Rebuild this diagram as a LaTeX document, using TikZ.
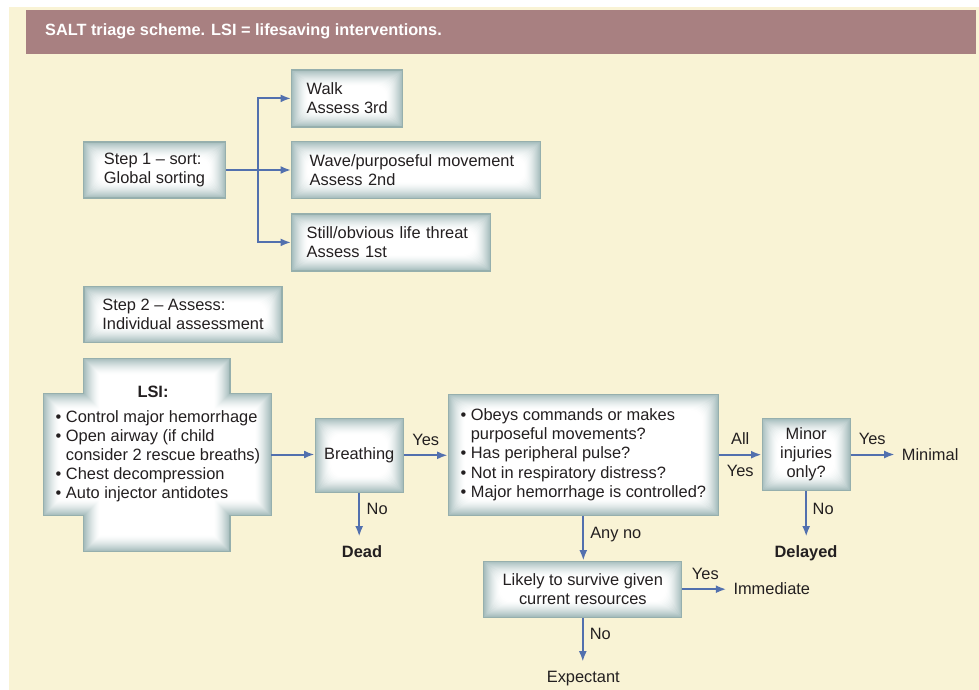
\documentclass[tikz,border=0pt]{standalone}
\usepackage{fontspec}
\setmainfont{Liberation Sans}
\usetikzlibrary{arrows.meta}
\definecolor{cream}{RGB}{249,243,213}
\definecolor{hdrcol}{RGB}{168,128,129}
\definecolor{boxedge}{RGB}{166,189,189}
\definecolor{boxline}{RGB}{150,175,173}
\definecolor{arrowblue}{RGB}{82,112,174}
\definecolor{ink}{RGB}{35,31,32}
\newcommand\diafont{\fontsize{16.4}{19.2}\selectfont}
\begin{document}
\begin{tikzpicture}[x=1pt,y=-1pt,
  pillow/.style={path picture={
    \foreach \i in {0,1,...,16}{
      \pgfmathsetmacro\pc{100*(1-\i/16)^1.5}
      \pgfmathsetmacro\rc{0.7*\i}
      \fill[boxedge!\pc!white, rounded corners=\rc pt]
        ([shift={(\i,\i)}]path picture bounding box.north west) rectangle
        ([shift={(-\i,-\i)}]path picture bounding box.south east);
    }}},
  box/.style={pillow, draw=boxline, line width=1.3pt, inner sep=0pt, font=\diafont, text=ink},
  lbl/.style={inner sep=0pt, font=\diafont, text=ink, text height=12pt, text depth=3.5pt},
  term/.style={lbl},
  arr/.style={draw=arrowblue, line width=2pt, -{Latex[length=10.5pt,width=8pt]}},
  toterm/.style={arr, shorten >=7pt},
  totermv/.style={arr, shorten >=9pt},
]
\useasboundingbox (0,0) rectangle (979,690);
\fill[white] (0,0) rectangle (979,690);
\fill[cream] (9,7) rectangle (979,690);

% header
\node[fill=hdrcol, minimum width=950pt, minimum height=44pt, inner sep=0pt] (hdr) at (501,32) {};
\node[anchor=base west, inner sep=0pt, text=white, font=\bfseries\fontsize{16.3}{19}\selectfont] (title) at (45,36) {SALT triage scheme. LSI = lifesaving interventions.};

% step 1
\node[box, minimum width=142pt, minimum height=56pt, align=left] (s1) at (154.5,170) {Step 1 – sort:\\Global sorting};
\node[box, minimum width=111pt, minimum height=57pt, align=left] (walk) at (347.2,98.4) {Walk\\Assess 3rd};
\node[box, minimum width=249pt, minimum height=57pt, align=left, text width=213pt] (wave) at (416.2,170) {Wave/purposeful movement\\Assess 2nd};
\node[box, minimum width=199pt, minimum height=57pt, align=left, text width=169pt] (still) at (391.2,242.4) {Still/obvious life threat\\Assess 1st};
\coordinate (trunk) at (258.3,170);
\draw[arr] (s1.east) -- (wave.west);
\draw[arr] (trunk) |- (walk.west);
\draw[arr] (trunk) |- (still.west);

% step 2
\node[box, minimum width=198pt, minimum height=56pt, align=left] (s2) at (183,314.5) {Step 2 – Assess:\\Individual assessment};

% LSI cross
\foreach \i in {0,1,...,16}{
  \pgfmathsetmacro\pc{100*(1-\i/16)^1.5}
  \fill[boxedge!\pc!white]
    ({83.8+\i},{358.3+\i}) -- ({230-\i},{358.3+\i}) -- ({230-\i},{393.3+\i}) --
    ({271.2-\i},{393.3+\i}) -- ({271.2-\i},{515.7-\i}) -- ({230-\i},{515.7-\i}) --
    ({230-\i},{551.5-\i}) -- ({83.8+\i},{551.5-\i}) -- ({83.8+\i},{515.7-\i}) --
    ({43.3+\i},{515.7-\i}) -- ({43.3+\i},{393.3+\i}) -- ({83.8+\i},{393.3+\i}) -- cycle;
}
\draw[boxline, line width=1.3pt]
  (83.8,358.3) -- (230,358.3) -- (230,393.3) -- (271.2,393.3) -- (271.2,515.7) --
  (230,515.7) -- (230,551.5) -- (83.8,551.5) -- (83.8,515.7) -- (43.3,515.7) --
  (43.3,393.3) -- (83.8,393.3) -- cycle;
\node[inner sep=0pt, minimum width=227.9pt, minimum height=122.4pt] (lsi) at (157.25,454.5) {};
\node[lbl, font=\diafont\bfseries] (lsihead) at (153,393.6) {LSI:};
\node[inner sep=0pt, anchor=west, align=left, font=\diafont, text=ink] (lsilist) at (55.5,456.2)
  {• Control major hemorrhage\\• Open airway (if child\\\phantom{• }consider 2 rescue breaths)\\• Chest decompression\\• Auto injector antidotes};

% main flow
\node[box, minimum width=88pt, minimum height=74pt] (breath) at (359.2,455.3) {Breathing};
\node[box, minimum width=270pt, minimum height=121pt, align=left] (big) at (583.3,454.7)
  {• Obeys commands or makes\\\phantom{• }purposeful movements?\\• Has peripheral pulse?\\• Not in respiratory distress?\\• Major hemorrhage is controlled?};
\node[box, minimum width=88pt, minimum height=72pt, align=center] (minor) at (806.2,454.5) {Minor\\injuries\\only?};
\node[box, minimum width=198pt, minimum height=56pt, align=center] (likely) at (582.8,589.2) {Likely to survive given\\current resources};

% terminals
\node[term, font=\diafont\bfseries] (dead) at (362,553.5) {Dead};
\node[term, font=\diafont\bfseries] (delayed) at (806,553.5) {Delayed};
\node[term, anchor=west] (minimal) at (901.7,456.6) {Minimal};
\node[term, anchor=west] (immediate) at (733.3,590.6) {Immediate};
\node[term] (expectant) at (583.3,678.6) {Expectant};

% connectors
\draw[arr] (lsi.east) -- (lsi.east -| breath.west);
\draw[arr] (breath.east) -- (breath.east -| big.west) node[lbl, midway, above=5.6pt] {Yes};
\draw[totermv] (breath.south) -- (breath.south |- dead.north) node[lbl, pos=0.32, right=6.5pt] {No};
\draw[arr] (big.east) -- (big.east -| minor.west) node[lbl, midway, above=5.6pt] {All} node[lbl, midway, below=8.5pt] {Yes};
\draw[toterm] (minor.east) -- (minor.east -| minimal.west) node[lbl, pos=0.42, above=5.6pt] {Yes};
\draw[totermv] (minor.south) -- (minor.south |- delayed.north) node[lbl, pos=0.35, right=5.5pt] {No};
\draw[arr] (big.south) -- (big.south |- likely.north) node[lbl, pos=0.42, right=6pt] {Any no};
\draw[toterm] (likely.east) -- (likely.east -| immediate.west) node[lbl, pos=0.45, above=5.6pt] {Yes};
\draw[totermv] (likely.south) -- (likely.south |- expectant.north) node[lbl, pos=0.32, right=6pt] {No};
\end{tikzpicture}
\end{document}
